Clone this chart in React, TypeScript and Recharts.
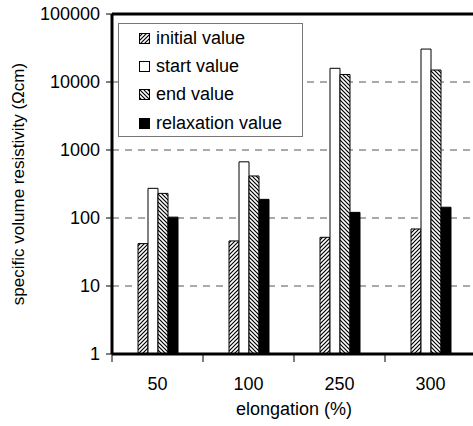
import { Bar, BarChart, CartesianGrid, Legend, ReferenceLine, XAxis, YAxis } from "recharts";

const categories = ["50", "100", "250", "300"];
const initialValues = [42, 46, 52, 69];
const startValues = [273, 670, 15900, 30500];
const endValues = [230, 415, 12900, 15000];
const relaxationValues = [103, 188, 121, 144];
const yTicks = [1, 10, 100, 1000, 10000, 100000];

const data = categories.map((elongation, i) => ({
  elongation,
  initial: initialValues[i],
  start: startValues[i],
  end: endValues[i],
  relaxation: relaxationValues[i],
}));

const series = [
  { key: "initial", name: "initial value", fill: "url(#hatchUp)", pattern: "up" },
  { key: "start", name: "start value", fill: "#fff", pattern: "none" },
  { key: "end", name: "end value", fill: "url(#hatchDown)", pattern: "down" },
  { key: "relaxation", name: "relaxation value", fill: "#000", pattern: "none" },
];

const FONT = '"Liberation Sans", Arial, sans-serif';
const UP = "M-1,1 l2,-2 M0,4 l4,-4 M3,5 l2,-2";
const DOWN = "M-1,3 l2,2 M0,0 l4,4 M3,-1 l2,2";

function Hatch({ id, d }: { id: string; d: string }) {
  return (
    <pattern id={id} patternUnits="userSpaceOnUse" width="4" height="4">
      <rect width="4" height="4" fill="#fff" />
      <path d={d} stroke="#000" strokeWidth="1.2" />
    </pattern>
  );
}

function Swatch({ s }: { s: (typeof series)[number] }) {
  const id = `sw-${s.key}`;
  const fill = s.pattern === "none" ? s.fill : `url(#${id})`;
  return (
    <svg width="11" height="11" style={{ display: "block" }}>
      <defs>{s.pattern !== "none" && <Hatch id={id} d={s.pattern === "up" ? UP : DOWN} />}</defs>
      <rect x="0.5" y="0.5" width="10" height="10" fill={fill} stroke="#000" />
    </svg>
  );
}

function LegendBox() {
  return (
    <div
      style={{
        width: 183,
        height: 112,
        border: "1px solid #777",
        background: "#fff",
        fontFamily: FONT,
        fontSize: 18,
      }}
    >
      {series.map((s) => (
        <div key={s.key} style={{ display: "flex", alignItems: "center", height: 28.3, paddingLeft: 20 }}>
          <Swatch s={s} />
          <span style={{ marginLeft: 6 }}>{s.name}</span>
        </div>
      ))}
    </div>
  );
}

// category label centred, tick mark on the left edge of each band (Excel style)
function ElongationTick({ x, y, payload }: any) {
  const half = payload.offset ?? 0;
  return (
    <g>
      <line x1={x - half} x2={x - half} y1={y - 23} y2={y - 15} stroke="#000" />
      <text x={x} y={y} dy="0.71em" textAnchor="middle" fill="#000" fontSize={18} fontFamily={FONT}>
        {payload.value}
      </text>
    </g>
  );
}

function YTitle({ viewBox }: any) {
  const cx = viewBox.x + 18;
  const cy = viewBox.y + viewBox.height / 2;
  return (
    <text
      x={cx}
      y={cy}
      transform={`rotate(-90 ${cx} ${cy})`}
      textAnchor="middle"
      dominantBaseline="central"
      fontSize={17}
      fontFamily={FONT}
      fill="#000"
    >
      specific volume resistivity (Ωcm)
    </text>
  );
}

export default function App() {
  // fixed + wider than the window: the plot's right end sits just past the visible edge
  return (
    <div
      style={{
        position: "fixed",
        left: 0,
        top: 0,
        width: 500,
        height: 426,
        background: "#fff",
        fontFamily: FONT,
      }}
    >
      <BarChart
        width={500}
        height={426}
        data={data}
        margin={{ top: 14, right: 24, bottom: 0, left: 0 }}
        barGap={0}
        barSize={10}
      >
        <defs>
          <Hatch id="hatchUp" d={UP} />
          <Hatch id="hatchDown" d={DOWN} />
        </defs>
        <CartesianGrid vertical={false} stroke="#555" strokeDasharray="7 6" />
        <XAxis
          dataKey="elongation"
          height={72}
          axisLine={false}
          tickLine={false}
          tickSize={6}
          tickMargin={17}
          tick={<ElongationTick />}
          label={{
            value: "elongation (%)",
            position: "insideBottom",
            offset: 11,
            fontSize: 18,
            fontFamily: FONT,
            fill: "#000",
          }}
        />
        <YAxis
          scale="log"
          domain={[1, 100000]}
          ticks={yTicks}
          allowDataOverflow
          width={112}
          axisLine={false}
          tickLine={{ stroke: "#000" }}
          tickSize={6}
          tickMargin={6}
          tick={{ fill: "#000", fontSize: 18, fontFamily: FONT }}
          label={{ content: <YTitle /> }}
        />
        <Legend
          layout="vertical"
          align="center"
          verticalAlign="middle"
          content={() => <LegendBox />}
          wrapperStyle={{ left: 118, top: 23, width: 185 }}
        />
        {series.map((s) => (
          <Bar
            key={s.key}
            dataKey={s.key}
            name={s.name}
            fill={s.fill}
            stroke="#000"
            strokeWidth={1}
            isAnimationActive={false}
          />
        ))}
        <ReferenceLine y={yTicks[yTicks.length - 1]} stroke="#000" strokeWidth={3} />
        <ReferenceLine y={yTicks[0]} stroke="#000" strokeWidth={3} />
        <ReferenceLine x={categories[0]} position="start" stroke="#000" strokeWidth={3} />
      </BarChart>
    </div>
  );
}
